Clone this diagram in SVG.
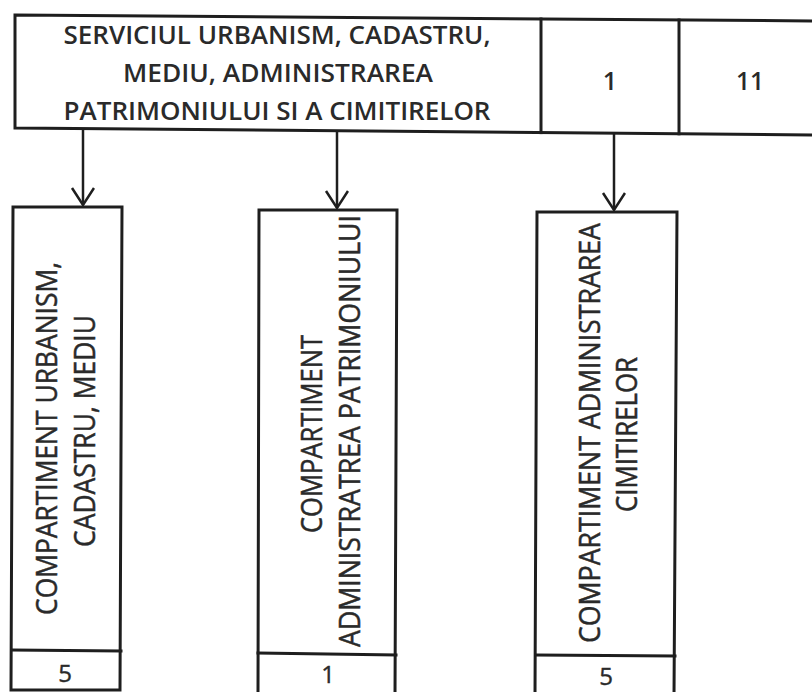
<svg xmlns="http://www.w3.org/2000/svg" width="812" height="692" viewBox="0 0 812 692">
<defs>
<style>
.ln{fill:none;stroke:#1e1e1e;stroke-width:3;stroke-linecap:square}
.bx{fill:#fff;stroke:#1e1e1e;stroke-width:3}
.ht{font-family:"Open Sans","Liberation Sans",sans-serif;font-weight:600;font-size:25px;fill:#2a2a2a;text-anchor:middle}
.vt{font-family:"Open Sans","Liberation Sans",sans-serif;font-size:29px;fill:#2a2a2a;stroke:#2a2a2a;stroke-width:0.5}
.nm{font-family:"Open Sans","Liberation Sans",sans-serif;font-size:24px;fill:#2a2a2a;text-anchor:middle;stroke:#2a2a2a;stroke-width:0.4}
.cn{fill:none;stroke:#1e1e1e;stroke-width:2.5}
</style>
<marker id="ah" markerUnits="userSpaceOnUse" markerWidth="22" markerHeight="26" refX="19" refY="12" orient="auto">
<path d="M2,1 L19,12 L2,23" fill="none" stroke="#1e1e1e" stroke-width="2.5"/>
</marker>
</defs>
<rect width="812" height="692" fill="#fff"/>

<g id="service">
<path class="bx" d="M15,15 L814,21 L814,135 L15,128 Z"/>
<line class="ln" x1="541" y1="19" x2="541" y2="132.6"/>
<line class="ln" x1="679" y1="20" x2="679" y2="133.8"/>
<text class="ht" x="277" y="44" textLength="427" lengthAdjust="spacingAndGlyphs">SERVICIUL URBANISM, CADASTRU,</text>
<text class="ht" x="278" y="82" textLength="310" lengthAdjust="spacingAndGlyphs">MEDIU, ADMINISTRAREA</text>
<text class="ht" x="277" y="120" textLength="427" lengthAdjust="spacingAndGlyphs">PATRIMONIULUI SI A CIMITIRELOR</text>
<text class="ht" x="610" y="90">1</text>
<text class="ht" x="750" y="90" textLength="28" lengthAdjust="spacingAndGlyphs">11</text>
</g>

<g id="connectors">
<line class="cn" x1="83" y1="129" x2="83" y2="205" marker-end="url(#ah)"/>
<line class="cn" x1="337" y1="131" x2="337" y2="208" marker-end="url(#ah)"/>
<line class="cn" x1="614" y1="133" x2="614" y2="210" marker-end="url(#ah)"/>
</g>

<g id="comp-urbanism">
<path class="bx" d="M13,207 L122,207 L120,690 L11,690 Z"/>
<line class="ln" x1="12" y1="650" x2="121" y2="651"/>
<text class="vt" transform="translate(57,615) rotate(-90)" textLength="353" lengthAdjust="spacingAndGlyphs">COMPARTIMENT URBANISM,</text>
<text class="vt" transform="translate(95,547) rotate(-90)" textLength="232" lengthAdjust="spacingAndGlyphs">CADASTRU, MEDIU</text>
<text class="nm" x="65" y="682">5</text>
</g>

<g id="comp-patrimoniu">
<path class="bx" d="M259,210 L397,210 L395,696 L258,696 Z"/>
<line class="ln" x1="258" y1="653" x2="396" y2="655"/>
<text class="vt" transform="translate(322,533) rotate(-90)" textLength="198" lengthAdjust="spacingAndGlyphs">COMPARTIMENT</text>
<text class="vt" transform="translate(360,647) rotate(-90)" textLength="432" lengthAdjust="spacingAndGlyphs">ADMINISTRATREA PATRIMONIULUI</text>
<text class="nm" x="328" y="683">1</text>
</g>

<g id="comp-cimitire">
<path class="bx" d="M537,212 L677,212 L674,696 L535,696 Z"/>
<line class="ln" x1="536" y1="655" x2="675" y2="656"/>
<text class="vt" transform="translate(600,643) rotate(-90)" textLength="420" lengthAdjust="spacingAndGlyphs">COMPARTIMENT ADMINISTRAREA</text>
<text class="vt" transform="translate(637,512) rotate(-90)" textLength="155" lengthAdjust="spacingAndGlyphs">CIMITIRELOR</text>
<text class="nm" x="606" y="685">5</text>
</g>
</svg>
